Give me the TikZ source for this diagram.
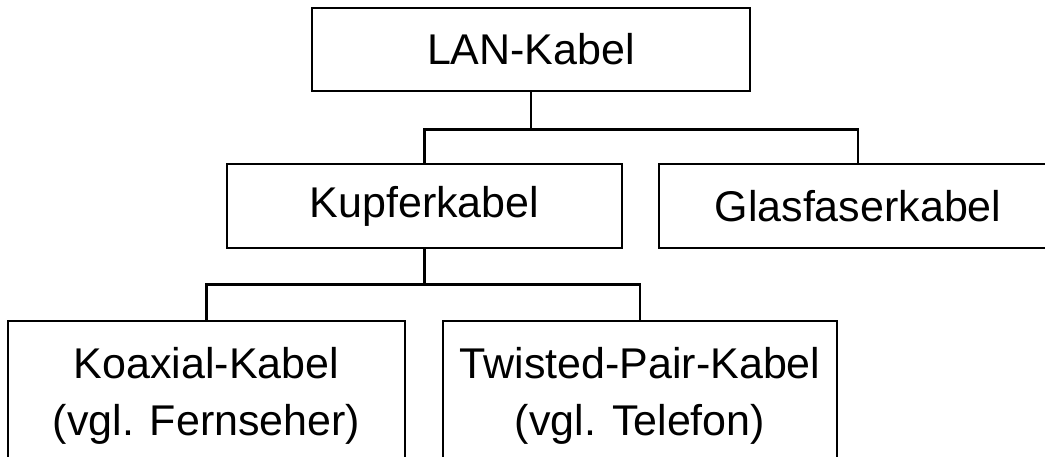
\documentclass[tikz,border=0pt]{standalone}
\usepackage{fontspec}
\setmainfont{Liberation Sans}

\begin{document}
\begin{tikzpicture}[x=1pt, y=1pt, line width=2.5pt,
    box/.style={draw, rectangle, align=center, inner sep=0pt,
                font=\fontsize{43}{57}\selectfont}]
    \useasboundingbox (0,0) rectangle (1045,-456);
    \clip (0,0) rectangle (1045,-456);

    % Nodes {lan, kupfer, glas, koax, twisted}
    \node [box, minimum width=438pt, minimum height=83pt]  (lan)     at (531,-49.5)    {LAN-Kabel};
    \node [box, minimum width=395pt, minimum height=84pt]  (kupfer)  at (424.5,-206)   {Kupferkabel};
    \node [box, minimum width=398pt, minimum height=84pt]  (glas)    at (858,-206)     {Glasfaserkabel};
    \node [box, minimum width=397pt, minimum height=149pt] (koax)    at (206.5,-395.5) {Koaxial-Kabel\\(vgl. Fernseher)};
    \node [box, minimum width=394pt, minimum height=149pt] (twisted) at (640,-395.5)   {Twisted-Pair-Kabel\\(vgl. Telefon)};

    % Paths
    \draw (lan.south)    -- ++(0,-37) -| (kupfer.north);
    \draw (lan.south)    -- ++(0,-37) -| (glas.north);
    \draw (kupfer.south) -- ++(0,-35) -| (koax.north);
    \draw (kupfer.south) -- ++(0,-35) -| (twisted.north);

\end{tikzpicture}
\end{document}
